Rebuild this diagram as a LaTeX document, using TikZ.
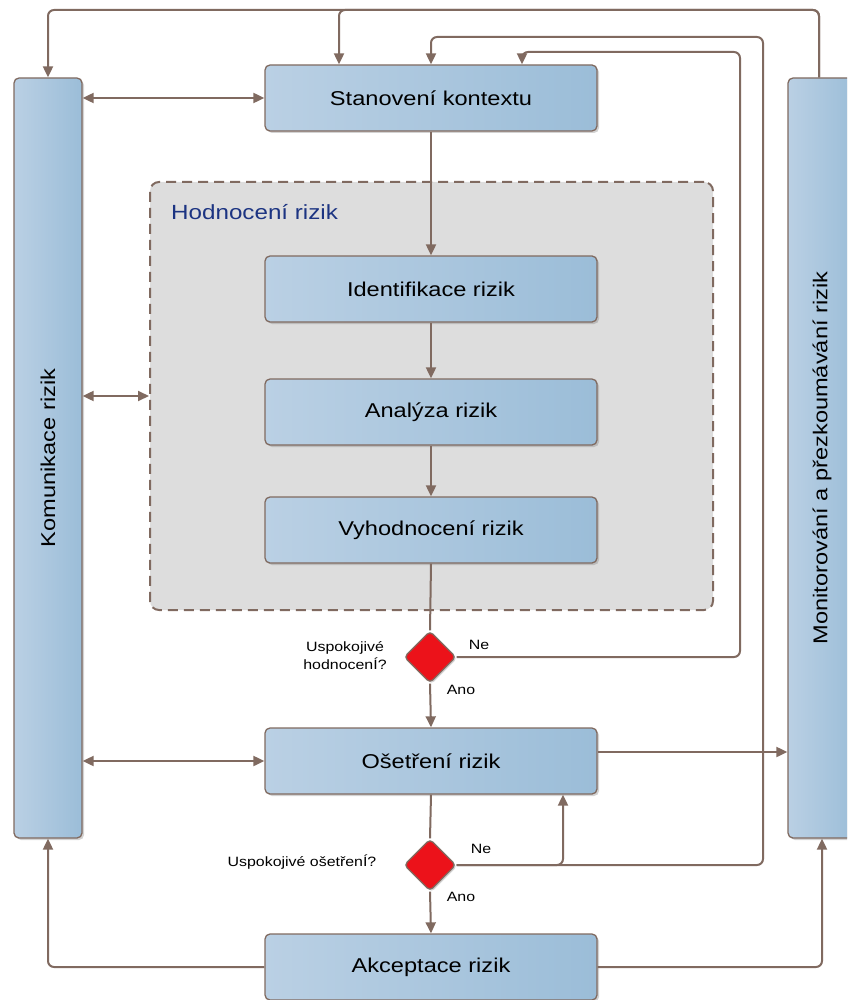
\documentclass[tikz,border=0pt]{standalone}
\usepackage{fontspec}
\setmainfont{Liberation Sans}[FakeStretch=1.18]
\usetikzlibrary{arrows.meta,shapes.geometric,shadows}
\definecolor{ln}{RGB}{128,106,96}
\definecolor{bxl}{RGB}{186,208,228}
\definecolor{bxr}{RGB}{155,189,216}
\definecolor{grayfill}{RGB}{221,221,221}
\definecolor{navy}{RGB}{28,52,130}
\definecolor{dred}{RGB}{236,18,26}
\begin{document}
\begin{tikzpicture}[x=1pt,y=-1pt,
  box/.style={draw=ln, line width=1.3pt, rounded corners=5pt, left color=bxl, right color=bxr,
    minimum width=332pt, minimum height=66pt, inner sep=0pt,
    font=\fontsize{20}{24}\selectfont,
    drop shadow={opacity=0.35, shadow xshift=2pt, shadow yshift=-2pt}},
  bar/.style={box, minimum width=68pt, minimum height=760pt},
  dec/.style={diamond, draw=ln, line width=1.3pt, fill=dred, minimum width=52pt, minimum height=52pt,
    inner sep=0pt, rounded corners=4pt, drop shadow={opacity=0.35, shadow xshift=1.5pt, shadow yshift=-1.5pt}},
  con/.style={draw=ln, line width=2pt, rounded corners=6pt},
  arr/.style={con, -{Triangle[length=11pt,width=10pt]}},
  darr/.style={con, {Triangle[length=11pt,width=10pt]}-{Triangle[length=11pt,width=10pt]}},
  small/.style={font=\fontsize{13.5}{15}\selectfont, inner sep=0pt},
]
\useasboundingbox (0,0) rectangle (847,1000);
\begin{scope}
\clip (0,0) rectangle (847,1000);
% group box
\node[draw=ln, line width=2pt, dash pattern=on 10pt off 6pt, fill=grayfill, rounded corners=9pt,
  minimum width=563pt, minimum height=428pt, inner sep=0pt] (hod) at (431.5,396) {};
\node[anchor=west, text=navy, font=\fontsize{20.5}{24}\selectfont, inner sep=0pt] (hodlab) at (171,212) {Hodnocení rizik};

% bars
\node[bar] (kom) at (48,458) {\rotatebox{90}{Komunikace rizik}};
\node[bar] (mon) at (822,458) {\rotatebox{90}{Monitorování a přezkoumávání rizik}};

% boxes
\node[box] (stan) at (431,98) {Stanovení kontextu};
\node[box] (ide) at (431,289) {Identifikace rizik};
\node[box] (ana) at (431,412) {Analýza rizik};
\node[box] (vyh) at (431,530) {Vyhodnocení rizik};
\node[box] (ose) at (431,761) {Ošetření rizik};
\node[box] (ako) at (431,967) {Akceptace rizik};

% decisions
\node[dec] (d1) at (430,657) {};
\node[dec] (d2) at (430,865) {};

% labels
\node[small, align=center] (q1) at (345,656) {Uspokojivé\\[3pt]hodnocenÍ?};
\node[small] (ne1) at (479,645) {Ne};
\node[small] (ano1) at (461,690) {Ano};
\node[small] (q2) at (302,862) {Uspokojivé ošetřenÍ?};
\node[small] (ne2) at (481,849) {Ne};
\node[small] (ano2) at (461,897) {Ano};

% main flow
\draw[arr] (stan.south) -- (ide.north);
\draw[arr] (ide.south) -- (ana.north);
\draw[arr] (ana.south) -- (vyh.north);
\draw[con] (vyh.south) -- (d1.north);
\draw[arr] (d1.south) -- (ose.north);
\draw[con] (ose.south) -- (d2.north);
\draw[arr] (d2.south) -- (ako.north);

% communication
\draw[darr] (kom.east |- stan.west) -- (stan.west);
\draw[darr] (kom.east |- hod.west) -- (hod.west);
\draw[darr] (kom.east |- ose.west) -- (ose.west);

% to monitoring
\coordinate (oe) at ([yshift=9pt]ose.east);
\draw[arr] (oe) -- (mon.west |- oe);

% feedback loops
\draw[arr] (d1.east) -| (740,52) -| ([xshift=91pt]stan.north);
\draw[arr] (d2.east) -| (763,37) -| (stan.north);
\draw[arr] (d2.east) -| ([xshift=132pt]ose.south);
\draw[arr] ([xshift=-3pt]mon.north) |- (300,10) -| (kom.north);
\draw[arr] ([xshift=-3pt]mon.north) |- (400,10) -| ([xshift=-92pt]stan.north);

% acceptance
\draw[arr] (ako.west) -| (kom.south);
\draw[arr] (ako.east) -| (mon.south);
\end{scope}
\end{tikzpicture}
\end{document}
